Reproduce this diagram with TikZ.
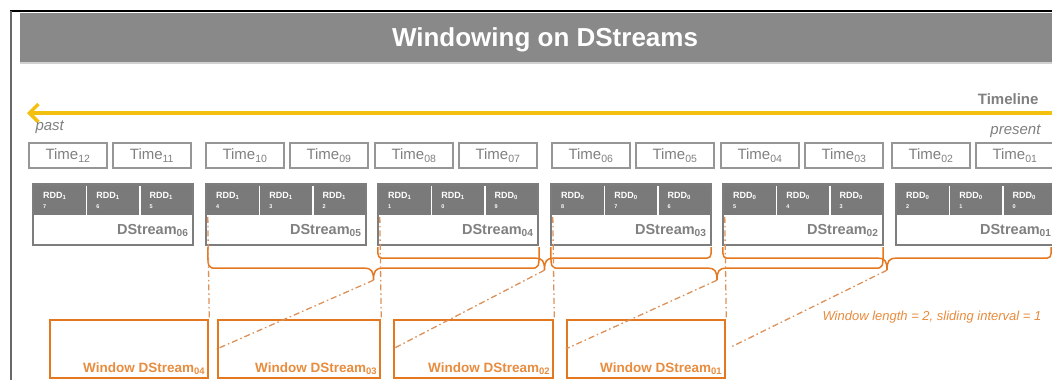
\documentclass[tikz,border=0pt]{standalone}
\usepackage{fontspec}
\setmainfont{Liberation Sans}
\usetikzlibrary{arrows.meta,calc}

\definecolor{bargray}{RGB}{137,137,137}
\definecolor{framegray}{RGB}{105,105,105}
\definecolor{boxgray}{RGB}{150,150,150}
\definecolor{txtgray}{RGB}{128,128,128}
\definecolor{hdrgray}{RGB}{122,122,122}
\definecolor{blkgray}{RGB}{125,125,125}
\definecolor{tlyellow}{RGB}{244,192,16}
\definecolor{winorange}{RGB}{228,120,32}
\definecolor{wintext}{RGB}{232,140,62}
\definecolor{dashorange}{RGB}{220,145,90}

% RDD cell caption: "RDD" with first digit as subscript, second digit below
\newcommand{\rddtext}[2]{RDD\textsubscript{#1}\\[-1.5pt]{\fontsize{5.5}{5.5}\selectfont #2}}

\begin{document}
\begin{tikzpicture}[x=1pt,y=-1pt,
  timebox/.style={draw=boxgray,line width=1.4pt,minimum width=78pt,minimum height=25pt,
    inner sep=0pt,text=txtgray,font=\fontsize{15}{16}\selectfont},
  dsbody/.style={fill=white,minimum height=29pt,text width=151pt,inner xsep=4.5pt,inner ysep=0pt,
    align=right,text=txtgray,font=\fontsize{14.5}{16}\selectfont\bfseries},
  rddcell/.style={fill=hdrgray,draw=white,line width=1.2pt,minimum width=53.33pt,minimum height=30pt,
    inner sep=0pt,text width=34pt,align=left,anchor=south west,text=white,
    font=\fontsize{9}{11}\selectfont\bfseries},
  blkborder/.style={draw=blkgray,line width=2.5pt},
  winbox/.style={draw=winorange,line width=2.5pt,minimum width=158pt,minimum height=58pt,inner sep=0pt},
  winlabel/.style={text=wintext,inner sep=3pt,font=\fontsize{13.5}{15}\selectfont\bfseries},
  dashdot/.style={draw=dashorange,line width=1.3pt,dash pattern=on 6pt off 3pt on 1.5pt off 3pt},
  wbrace/.style={draw=winorange,line width=1.5pt,to path={
    let \p1=(\tikztostart), \p2=(\tikztotarget), \n1={0.5*(\x1+\x2)} in
     .. controls (\x1,\y1-#1) and (\x1,\y1-#1) .. (\x1+9pt,\y1-#1)
     -- (\n1-9pt,\y1-#1)
     .. controls (\n1-2pt,\y1-#1) and (\n1,\y1-#1-3pt) .. (\n1,\y1-#1-12pt)
     .. controls (\n1,\y1-#1-3pt) and (\n1+2pt,\y1-#1) .. (\n1+9pt,\y1-#1)
     -- (\x2-9pt,\y1-#1)
     .. controls (\x2,\y1-#1) and (\x2,\y1-#1) .. (\x2,\y2)}},
]
\useasboundingbox (0,0) rectangle (1052,380);
\fill[white] (0,0) rectangle (1052,380);

% slide frame and title bar
\draw[black,line width=1.2pt] (10,11) -- (1052,11);
\draw[framegray,line width=2pt] (11,11) -- (11,380);
\fill[bargray] (20,13) rectangle (1052,62);
\draw[black!18,line width=1.5pt] (20,63) -- (1052,63);
\node[text=white,font=\fontsize{26}{28}\selectfont\bfseries] (title) at (545,40) {Windowing on DStreams};

% timeline
\coordinate (tlR) at (1052,113);
\coordinate (tlL) at (27,113);
\draw[tlyellow,line width=3.5pt,-{Straight Barb[length=9pt,width=18pt]}] (tlR) -- (tlL);
\node[anchor=east,text=txtgray,font=\fontsize{15}{16}\selectfont\bfseries] (tline) at (1042,99) {Timeline};
\node[anchor=west,text=txtgray,font=\fontsize{15}{16}\selectfont\itshape] (past) at (32,127) {past};
\node[anchor=east,text=txtgray,font=\fontsize{15}{16}\selectfont\itshape] (present) at (1044,131) {present};

% time slots
\foreach \nm/\cx in {12/68,11/152,10/245,09/329,08/414,07/498,06/591,05/675,04/760,03/844,02/931,01/1015}
  \node[timebox] (t\nm) at (\cx,155.5) {Time\textsubscript{\nm}};

% DStreams, each made of three RDDs
\foreach \ds/\bx/\ha/\la/\hb/\lb/\hc/\lc in
  {06/33/1/7/1/6/1/5, 05/206/1/4/1/3/1/2, 04/378/1/1/1/0/0/9,
   03/551/0/8/0/7/0/6, 02/723/0/5/0/4/0/3, 01/896/0/2/0/1/0/0}{
  \node[dsbody] (d\ds) at (\bx+80,230.5) {DStream\textsubscript{\ds}};
  \node[rddcell] (r\ha\la) at (d\ds.north west) {\rddtext{\ha}{\la}};
  \node[rddcell] (r\hb\lb) at ($(d\ds.north west)+(53.33,0)$) {\rddtext{\hb}{\lb}};
  \node[rddcell] (r\hc\lc) at ($(d\ds.north west)+(106.67,0)$) {\rddtext{\hc}{\lc}};
  \draw[blkborder] (r\ha\la.north west) rectangle (d\ds.south east);
}

% window DStreams
\node[winbox,minimum width=158pt] (w04) at (129,349) {};
\node[winbox,minimum width=162pt] (w03) at (299,349) {};
\node[winbox,minimum width=159pt] (w02) at (473.5,349) {};
\node[winbox,minimum width=158pt] (w01) at (646,349) {};
\foreach \w in {04,03,02,01}
  \node[winlabel,anchor=south east] (w\w lbl) at ($(w\w.south east)+(-1,-1)$) {Window DStream\textsubscript{\w}};
\coordinate (wend) at (731,347);

% windows of length 2 sliding by 1
\coordinate (bA1) at ($(d05.south west)+(2,2)$);
\coordinate (bA2) at ($(d04.south east)+(1,2)$);
\coordinate (bB1) at ($(d04.south west)+(0,2)$);
\coordinate (bB2) at ($(d03.south east)+(0,2)$);
\coordinate (bC1) at ($(d03.south west)+(0,2)$);
\coordinate (bC2) at ($(d02.south east)+(0,2)$);
\coordinate (bD1) at ($(d02.south west)+(0,2)$);
\coordinate (bD2) at ($(d01.south east)+(-5,2)$);
\draw[wbrace=21pt] (bA1) to (bA2);
\draw[wbrace=11pt] (bB1) to (bB2);
\draw[wbrace=21pt] (bC1) to (bC2);
\draw[wbrace=11pt] (bD1) to (bD2);
\coordinate (tipA) at ($(bA1)!0.5!(bA2)+(0,33)$);
\coordinate (tipB) at ($(bB1)!0.5!(bB2)+(0,23)$);
\coordinate (tipC) at ($(bC1)!0.5!(bC2)+(0,33)$);
\coordinate (tipD) at ($(bD1)!0.5!(bD2)+(0,23)$);

% guide lines
\draw[dashdot] ($(d05.north west)+(2,1)$) -- (w04.north east);
\draw[dashdot] ($(d04.north west)+(2,1)$) -- (w03.north east);
\draw[dashdot] ($(d03.north west)+(2,1)$) -- (w02.north east);
\draw[dashdot] ($(d02.north west)+(2,1)$) -- (w01.north east);
\draw[dashdot] (tipA) -- (w03.west);
\draw[dashdot] (tipB) -- (w02.west);
\draw[dashdot] (tipC) -- (w01.west);
\draw[dashdot] (tipD) -- (wend);

\node[anchor=west,text=wintext,font=\fontsize{13}{14}\selectfont\itshape] (wnote) at (819,317)
  {Window length = 2, sliding interval = 1};
\end{tikzpicture}
\end{document}
